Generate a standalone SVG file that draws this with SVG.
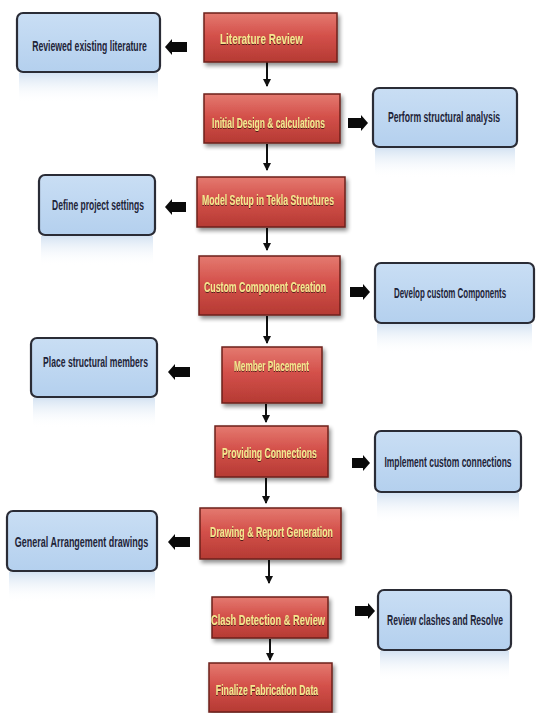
<svg xmlns="http://www.w3.org/2000/svg" width="536" height="713" viewBox="0 0 536 713">
<defs>
<linearGradient id="gRed" x1="0" y1="0" x2="0" y2="1">
<stop offset="0" stop-color="#e47a70"/>
<stop offset="0.45" stop-color="#d4514b"/>
<stop offset="1" stop-color="#b53a33"/>
</linearGradient>
<linearGradient id="gBlue" x1="0" y1="0" x2="0" y2="1">
<stop offset="0" stop-color="#c9def4"/>
<stop offset="1" stop-color="#b4d0ee"/>
</linearGradient>
<linearGradient id="gRefl" x1="0" y1="0" x2="0" y2="1">
<stop offset="0" stop-color="#c6d9ee" stop-opacity="0.75"/>
<stop offset="1" stop-color="#ffffff" stop-opacity="0"/>
</linearGradient>
<filter id="shadow" x="-10%" y="-20%" width="125%" height="150%">
<feGaussianBlur in="SourceAlpha" stdDeviation="2"/>
<feOffset dx="2" dy="3" result="b"/>
<feComponentTransfer><feFuncA type="linear" slope="0.45"/></feComponentTransfer>
<feMerge><feMergeNode/><feMergeNode in="SourceGraphic"/></feMerge>
</filter>
<filter id="tshadow" x="-5%" y="-20%" width="110%" height="150%">
<feGaussianBlur in="SourceAlpha" stdDeviation="0.6"/>
<feOffset dx="0.8" dy="1" result="b"/>
<feComponentTransfer><feFuncA type="linear" slope="0.6"/></feComponentTransfer>
<feMerge><feMergeNode/><feMergeNode in="SourceGraphic"/></feMerge>
</filter>
<marker id="ah" markerWidth="8" markerHeight="8" refX="7" refY="4" orient="auto" markerUnits="userSpaceOnUse" viewBox="0 0 8 8">
<path d="M0,0 L8,4 L0,8 Z" fill="#111"/>
</marker>
</defs>
<style>
.red{fill:url(#gRed);stroke:#6e211b;stroke-width:1.5;filter:url(#shadow)}
.blue{fill:url(#gBlue);stroke:#2a2c36;stroke-width:2.2}
.refl{fill:url(#gRefl)}
.rt{font-family:"Liberation Sans",Arial,sans-serif;font-weight:bold;font-size:15.5px;fill:#f5e68e;text-anchor:middle;dominant-baseline:central;filter:url(#tshadow)}
.bt{font-family:"Liberation Sans",Arial,sans-serif;font-weight:bold;font-size:15.5px;fill:#1e2438;text-anchor:middle;dominant-baseline:central}
.down{stroke:#111;stroke-width:2;fill:none}
.blk{fill:#0a0a0a}
</style>
<rect width="536" height="713" fill="#ffffff"/>

<g id="connectors">
<line class="down" x1="267" y1="62" x2="267" y2="86" marker-end="url(#ah)"/>
<line class="down" x1="267" y1="144" x2="267" y2="170" marker-end="url(#ah)"/>
<line class="down" x1="267" y1="228" x2="267" y2="250" marker-end="url(#ah)"/>
<line class="down" x1="267" y1="316" x2="267" y2="343" marker-end="url(#ah)"/>
<line class="down" x1="266" y1="404" x2="266" y2="422" marker-end="url(#ah)"/>
<line class="down" x1="266" y1="478" x2="266" y2="503" marker-end="url(#ah)"/>
<line class="down" x1="269" y1="560" x2="269" y2="583" marker-end="url(#ah)"/>
<line class="down" x1="270" y1="639" x2="270" y2="660" marker-end="url(#ah)"/>
<path class="blk" d="M165,47 L172,39 L172,42 L187,42 L187,52 L172,52 L172,55 Z"/>
<path class="blk" d="M368,123 L361,115 L361,118 L348,118 L348,128 L361,128 L361,131 Z"/>
<path class="blk" d="M165,207 L172,199 L172,202 L186,202 L186,212 L172,212 L172,215 Z"/>
<path class="blk" d="M370,292 L363,284 L363,287 L350,287 L350,297 L363,297 L363,300 Z"/>
<path class="blk" d="M168,372 L175,364 L175,367 L190,367 L190,377 L175,377 L175,380 Z"/>
<path class="blk" d="M370,463 L363,455 L363,458 L352,458 L352,468 L363,468 L363,471 Z"/>
<path class="blk" d="M168,542 L175,534 L175,537 L190,537 L190,547 L175,547 L175,550 Z"/>
<path class="blk" d="M375,611 L368,603 L368,606 L355,606 L355,616 L368,616 L368,619 Z"/>
</g>

<g id="literature-review">
<rect class="red" x="204" y="13" width="133" height="49"/>
<text class="rt" transform="translate(261.5,39) scale(0.62,1)" textLength="134" lengthAdjust="spacingAndGlyphs">Literature Review</text>
</g>
<g id="reviewed-existing-literature">
<rect class="refl" x="19" y="73" width="139" height="30"/>
<rect class="blue" x="17" y="13" width="143" height="59" rx="6"/>
<text class="bt" transform="translate(89.5,46) scale(0.62,1)" textLength="185" lengthAdjust="spacingAndGlyphs">Reviewed existing literature</text>
</g>

<g id="initial-design">
<rect class="red" x="204" y="94" width="136" height="49"/>
<text class="rt" transform="translate(268.5,123) scale(0.62,1)" textLength="182" lengthAdjust="spacingAndGlyphs">Initial Design &amp; calculations</text>
</g>
<g id="perform-structural-analysis">
<rect class="refl" x="375" y="148" width="140" height="30"/>
<rect class="blue" x="373" y="88" width="144" height="59" rx="6"/>
<text class="bt" transform="translate(444,117) scale(0.62,1)" textLength="181" lengthAdjust="spacingAndGlyphs">Perform structural analysis</text>
</g>

<g id="model-setup">
<rect class="red" x="197" y="177" width="148" height="50"/>
<text class="rt" transform="translate(268,200) scale(0.62,1)" textLength="213" lengthAdjust="spacingAndGlyphs">Model Setup in Tekla Structures</text>
</g>
<g id="define-project-settings">
<rect class="refl" x="41" y="236" width="112" height="30"/>
<rect class="blue" x="39" y="175" width="116" height="60" rx="6"/>
<text class="bt" transform="translate(98,205) scale(0.62,1)" textLength="148" lengthAdjust="spacingAndGlyphs">Define project settings</text>
</g>

<g id="custom-component-creation">
<rect class="red" x="199" y="256" width="141" height="59"/>
<text class="rt" transform="translate(265,287) scale(0.62,1)" textLength="197" lengthAdjust="spacingAndGlyphs">Custom Component Creation</text>
</g>
<g id="develop-custom-components">
<rect class="refl" x="377" y="324" width="155" height="30"/>
<rect class="blue" x="375" y="263" width="159" height="60" rx="6"/>
<text class="bt" transform="translate(450,293) scale(0.62,1)" textLength="181" lengthAdjust="spacingAndGlyphs">Develop custom Components</text>
</g>

<g id="member-placement">
<rect class="red" x="222" y="347" width="100" height="56"/>
<text class="rt" transform="translate(271.5,366) scale(0.62,1)" textLength="121" lengthAdjust="spacingAndGlyphs">Member Placement</text>
</g>
<g id="place-structural-members">
<rect class="refl" x="33" y="398" width="122" height="30"/>
<rect class="blue" x="31" y="338" width="126" height="59" rx="6"/>
<text class="bt" transform="translate(95.5,362) scale(0.62,1)" textLength="169" lengthAdjust="spacingAndGlyphs">Place structural members</text>
</g>

<g id="providing-connections">
<rect class="red" x="215" y="426" width="113" height="51"/>
<text class="rt" transform="translate(269.5,453) scale(0.62,1)" textLength="153" lengthAdjust="spacingAndGlyphs">Providing Connections</text>
</g>
<g id="implement-custom-connections">
<rect class="refl" x="377" y="493" width="142" height="30"/>
<rect class="blue" x="375" y="431" width="146" height="61" rx="6"/>
<text class="bt" transform="translate(448,462) scale(0.62,1)" textLength="205" lengthAdjust="spacingAndGlyphs">Implement custom connections</text>
</g>

<g id="drawing-report-generation">
<rect class="red" x="200" y="508" width="141" height="51"/>
<text class="rt" transform="translate(271.5,532) scale(0.62,1)" textLength="198" lengthAdjust="spacingAndGlyphs">Drawing &amp; Report Generation</text>
</g>
<g id="general-arrangement-drawings">
<rect class="refl" x="9" y="572" width="146" height="30"/>
<rect class="blue" x="7" y="511" width="150" height="60" rx="6"/>
<text class="bt" transform="translate(81.5,542) scale(0.62,1)" textLength="215" lengthAdjust="spacingAndGlyphs">General Arrangement drawings</text>
</g>

<g id="clash-detection-review">
<rect class="red" x="212" y="597" width="116" height="41"/>
<text class="rt" transform="translate(268,620) scale(0.62,1)" textLength="184" lengthAdjust="spacingAndGlyphs">Clash Detection &amp; Review</text>
</g>
<g id="review-clashes-resolve">
<rect class="refl" x="380" y="651" width="129" height="30"/>
<rect class="blue" x="378" y="590" width="133" height="60" rx="6"/>
<text class="bt" transform="translate(445,620) scale(0.62,1)" textLength="187" lengthAdjust="spacingAndGlyphs">Review clashes and Resolve</text>
</g>

<g id="finalize-fabrication-data">
<rect class="red" x="209" y="663" width="123" height="49"/>
<text class="rt" transform="translate(267,690) scale(0.62,1)" textLength="165" lengthAdjust="spacingAndGlyphs">Finalize Fabrication Data</text>
</g>
</svg>
